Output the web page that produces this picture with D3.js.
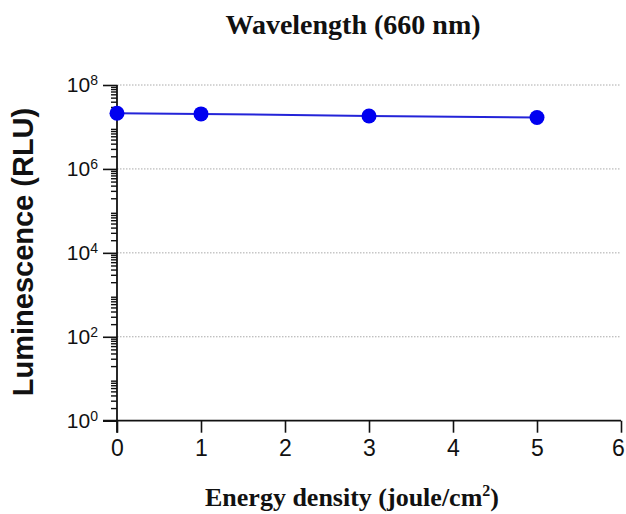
<!DOCTYPE html>
<html>
<head>
<meta charset="utf-8">
<script src="https://cdn.jsdelivr.net/npm/d3@7"></script>
<style>
  body { margin: 0; background: #fff; }
  .tick text { font-family: Arial, "Liberation Sans", sans-serif; }
</style>
</head>
<body>
<div id="main"></div>
<script>
// data
const energy = [0, 1, 3, 5]
const lum = [2.12e7, 2.05e7, 1.82e7, 1.68e7]
const xTicks = [0, 1, 2, 3, 4, 5, 6]
const yTicks = [1e0, 1e2, 1e4, 1e6, 1e8]
const supers = { 0: "0", 2: "2", 4: "4", 6: "6", 8: "8" }

let width = 626,
    height = 514

let margin = { left: 117, right: 5, top: 85, bottom: 93 }

var svg = d3.select("div#main")
    .append("svg")
    .attr("width", width)
    .attr("height", height)

let x = d3.scaleLinear().domain([0, 6]).range([margin.left, 621])
let y = d3.scaleLog().domain([1, 1e8]).range([420.7, margin.top])

// grid
svg.append("g")
    .selectAll("line")
    .data(yTicks.slice(1))
    .join("line")
    .attr("x1", x(0))
    .attr("x2", x(6))
    .attr("y1", d => y(d))
    .attr("y2", d => y(d))
    .attr("stroke", "#aaa")
    .attr("stroke-width", 1)
    .attr("stroke-dasharray", "1.5,1.5")

// minor ticks on y
let minors = []
for (let e = 0; e < 8; e++) {
    for (let m = 2; m <= 9; m++) minors.push(m * Math.pow(10, e))
}

let yAxis = svg.append("g")
    .attr("transform", `translate(${x(0)},0)`)
    .call(d3.axisLeft(y).tickValues(yTicks).tickSize(14).tickFormat(""))
yAxis.select(".domain").remove()
yAxis.selectAll(".tick line").attr("stroke", "#111").attr("stroke-width", 1.6)

svg.append("g")
    .attr("transform", `translate(${x(0)},0)`)
    .call(d3.axisLeft(y).tickValues(minors).tickSize(6).tickFormat(""))
    .call(g => g.select(".domain").remove())
    .selectAll(".tick line").attr("stroke", "#111").attr("stroke-width", 1.4)

// y labels with superscripts
let yl = svg.append("g")
    .selectAll("text")
    .data(yTicks)
    .join("text")
    .attr("x", 98)
    .attr("y", d => y(d) + 7)
    .attr("text-anchor", "end")
    .attr("font-family", "Arial, 'Liberation Sans', sans-serif")
    .attr("font-size", 21)
    .attr("fill", "#111")
yl.append("tspan").text("10")
yl.append("tspan")
    .attr("dy", -7)
    .attr("font-size", 14)
    .text(d => supers[Math.round(Math.log10(d))])

// vertical axis line
svg.append("line")
    .attr("x1", x(0)).attr("x2", x(0))
    .attr("y1", y(1e8)).attr("y2", y(1) + 12)
    .attr("stroke", "#111").attr("stroke-width", 1.8)

// x axis
let xAxis = svg.append("g")
    .attr("transform", `translate(0,${y(1)})`)
    .call(d3.axisBottom(x).tickValues(xTicks).tickSize(12).tickSizeOuter(0).tickPadding(7).tickFormat(d3.format("d")))
xAxis.select(".domain").attr("stroke", "#111").attr("stroke-width", 1.8)
    .attr("d", `M${x(0) - 14},0H${x(6)}`)
xAxis.selectAll(".tick line").attr("stroke", "#111").attr("stroke-width", 1.6)
xAxis.selectAll(".tick text").attr("font-size", 23).attr("fill", "#111")
    .attr("dx", d => d == 6 ? -3 : 0)

// series
let line = d3.line()
    .x((d, i) => x(energy[i]))
    .y(d => y(d))

svg.append("path")
    .datum(lum)
    .attr("d", line)
    .attr("fill", "none")
    .attr("stroke", "#2424d8")
    .attr("stroke-width", 2)

svg.append("g")
    .selectAll("circle")
    .data(lum)
    .join("circle")
    .attr("cx", (d, i) => x(energy[i]))
    .attr("cy", d => y(d))
    .attr("r", 7.5)
    .attr("fill", "#0000f0")

// titles
svg.append("text")
    .attr("x", 353)
    .attr("y", 34)
    .attr("text-anchor", "middle")
    .attr("font-family", "'Liberation Serif', 'Times New Roman', serif")
    .attr("font-weight", "bold")
    .attr("font-size", 28)
    .attr("fill", "#111")
    .text("Wavelength (660 nm)")

let xt = svg.append("text")
    .attr("x", 352)
    .attr("y", 506)
    .attr("text-anchor", "middle")
    .attr("font-family", "'Liberation Serif', 'Times New Roman', serif")
    .attr("font-weight", "bold")
    .attr("font-size", 26)
    .attr("fill", "#111")
xt.append("tspan").text("Energy density (joule/cm")
xt.append("tspan").attr("dy", -10).attr("font-size", 16).text("2")
xt.append("tspan").attr("dy", 10).text(")")

svg.append("text")
    .attr("transform", "translate(33,252) rotate(-90)")
    .attr("text-anchor", "middle")
    .attr("font-family", "Arial, 'Liberation Sans', sans-serif")
    .attr("font-weight", "bold")
    .attr("font-size", 29)
    .attr("fill", "#111")
    .text("Luminescence (RLU)")
</script>
</body>
</html>
